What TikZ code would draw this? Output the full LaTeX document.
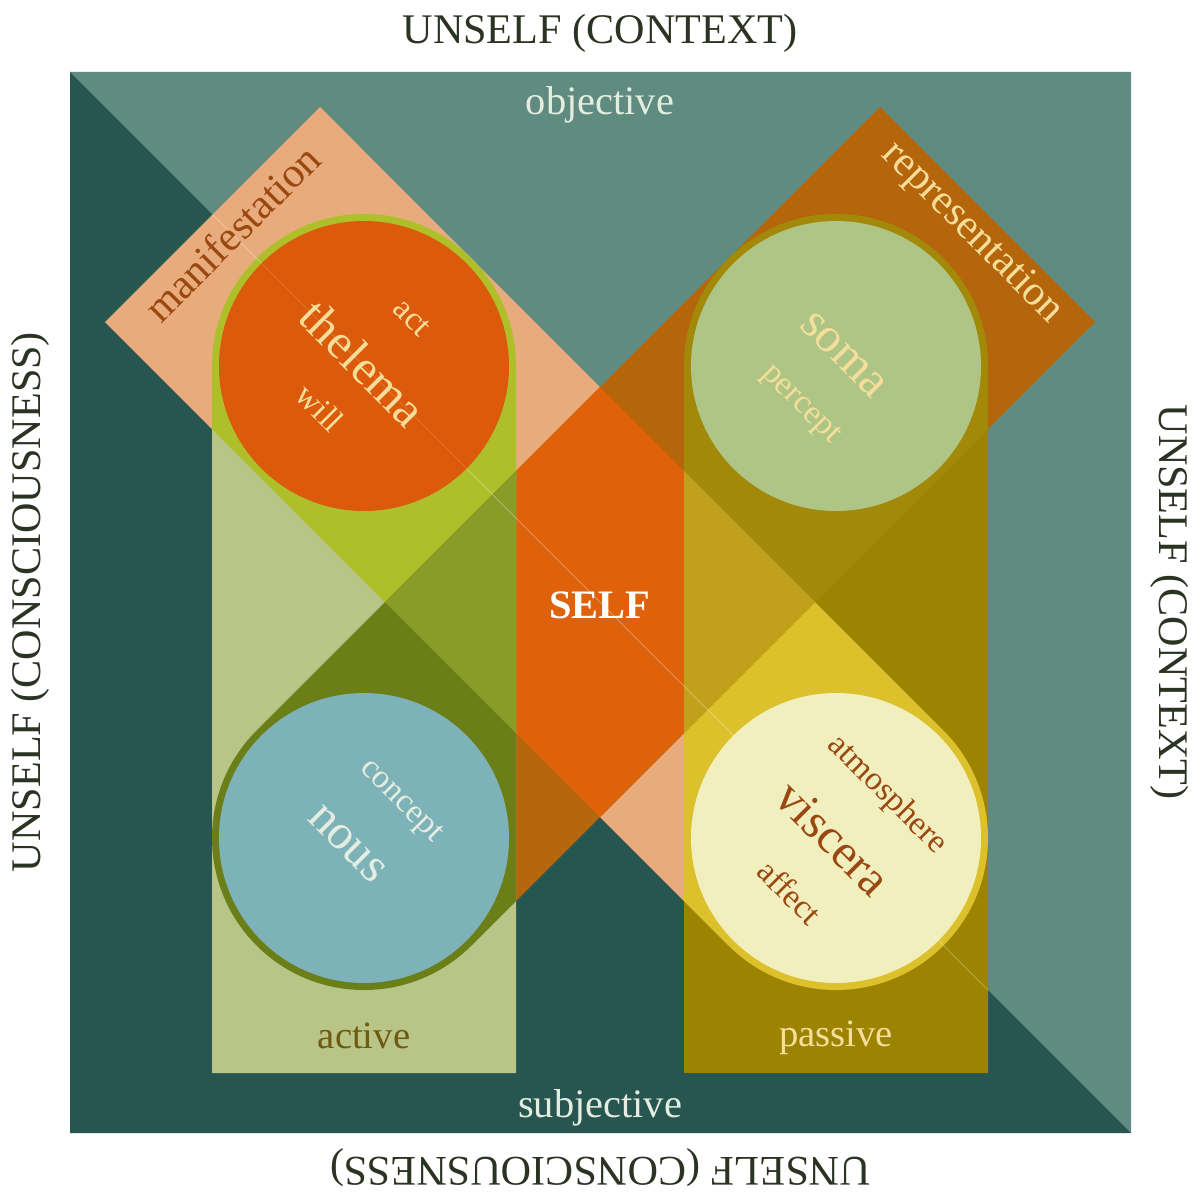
\documentclass[tikz,border=0pt]{standalone}
\usepackage{fontspec}
\setmainfont{Liberation Serif}
\usepackage{tikz}

\definecolor{paper}{HTML}{FFFFFF}
\definecolor{tealL}{HTML}{5F8B80}
\definecolor{tealD}{HTML}{27554F}
\definecolor{salmon}{HTML}{E8AB7B}
\definecolor{rust}{HTML}{B5650B}
\definecolor{selfor}{HTML}{DF620A}
\definecolor{lstripc}{HTML}{B9C586}
\definecolor{lsal}{HTML}{AEBF2A}
\definecolor{lboth}{HTML}{8A9C28}
\definecolor{lrust}{HTML}{6C7E18}
\definecolor{rstripc}{HTML}{9C8402}
\definecolor{rsal}{HTML}{DCC02C}
\definecolor{rboth}{HTML}{C1A11B}
\definecolor{rrust}{HTML}{A3890A}
\definecolor{thelc}{HTML}{DB5A0B}
\definecolor{somac}{HTML}{AEC585}
\definecolor{nousc}{HTML}{7DB2B8}
\definecolor{viscc}{HTML}{F2EFBF}
\definecolor{cream}{HTML}{F5DE9A}
\definecolor{brownt}{HTML}{9A4710}
\definecolor{activet}{HTML}{6E5A12}
\definecolor{palet}{HTML}{E4EDE0}
\definecolor{inkt}{HTML}{2B3322}

\tikzset{
    fsz/.style={font=\fontsize{#1}{#1}\selectfont},
    axis/.style={fsz=24,text=inkt,inner sep=0pt},
    pole/.style={fsz=23,text=palet,inner sep=0pt,anchor=base},
    striplbl/.style={fsz=22,inner sep=0pt,anchor=base},
    bandlbl/.style={fsz=24,inner sep=0pt},
    word/.style={fsz=28,rotate=-45,inner sep=0pt},
    subword/.style={fsz=19,rotate=-45,inner sep=0pt},
    selflbl/.style={font=\fontsize{23}{23}\selectfont\bfseries,text=white,inner sep=0pt,anchor=base},
    seam/.style={draw=white,draw opacity=0.3,line width=0.6pt}
}

% band and strip outlines, in pixel units
\def\mband{(320,107) -- (105,322) -- (728.5,945.5) arc[start angle=135,end angle=-45,radius=152] -- cycle}
\def\rband{(880,107) -- (1095,322) -- (471.5,945.5) arc[start angle=45,end angle=225,radius=152] -- cycle}
\def\lstrip{(212,1073) -- (212,366) arc[start angle=180,end angle=360,radius=152] -- (516,1073) -- cycle}
\def\rstrip{(684,1073) -- (684,366) arc[start angle=180,end angle=360,radius=152] -- (988,1073) -- cycle}

\begin{document}
\begin{tikzpicture}[x=0.02cm,y=-0.02cm]
    \useasboundingbox (0,0) rectangle (1200,1203);
    \fill[paper] (0,0) rectangle (1200,1203);

    % the square, split on its diagonal
    \fill[tealL] (70,72) -- (1131,72) -- (1131,1133) -- cycle;
    \fill[tealD] (70,72) -- (70,1133) -- (1131,1133) -- cycle;

    % manifestation and representation bands
    \fill[salmon] \mband;
    \fill[rust] \rband;
    \begin{scope}
        \clip \mband;
        \fill[selfor] \rband;
    \end{scope}

    % active strip
    \fill[lstripc] \lstrip;
    \begin{scope}
        \clip \lstrip;
        \fill[lsal] \mband;
        \fill[lrust] \rband;
        \clip \mband;
        \fill[lboth] \rband;
    \end{scope}

    % passive strip
    \fill[rstripc] \rstrip;
    \begin{scope}
        \clip \rstrip;
        \fill[rsal] \mband;
        \fill[rrust] \rband;
        \clip \mband;
        \fill[rboth] \rband;
    \end{scope}

    \draw[seam] (212.5,214.5) -- (988,990);

    % the four circles
    \fill[thelc] (364,366) circle[radius=145];
    \fill[somac] (836,366) circle[radius=145];
    \fill[nousc] (364,838) circle[radius=145];
    \fill[viscc] (836,838) circle[radius=145];
    \draw[seam,draw opacity=0.15] (364,366) ++(-102.5,-102.5) -- ++(205,205);
    \draw[seam,draw opacity=0.2] (836,838) ++(-102.5,-102.5) -- ++(205,205);

    % outer labels
    \node[axis] (ctxtop) at (600,33) {UNSELF (CONTEXT)};
    \node[axis,rotate=90] (conleft) at (30,602) {UNSELF (CONSCIOUSNESS)};
    \node[axis,rotate=-90] (ctxright) at (1170,602) {UNSELF (CONTEXT)};
    \node[axis,rotate=180] (conbottom) at (600,1168) {UNSELF (CONSCIOUSNESS)};

    \node[pole] (objective) at (600,114) {objective};
    \node[pole] (subjective) at (600,1117) {subjective};
    \node[striplbl,text=activet] (active) at (364,1048) {active};
    \node[striplbl,text=cream] (passive) at (836,1046) {passive};
    \node[selflbl] (self) at (600,618) {SELF};

    \node[bandlbl,rotate=45,text=brownt] (manif) at (232,233) {manifestation};
    \node[bandlbl,rotate=-45,text=cream] (repres) at (972,233) {representation};

    % circle words
    \node[word,text=cream] (thelema) at (363,363) {thelema};
    \node[subword,text=cream] (act) at (412,318) {act};
    \node[subword,text=cream] (will) at (320,408) {will};
    \node[word,text=cream] (soma) at (843,355) {soma};
    \node[subword,text=cream] (percept) at (800,405) {percept};
    \node[word,text=palet] (nous) at (347,844) {nous};
    \node[subword,text=palet] (concept) at (400,802) {concept};
    \node[word,text=brownt] (viscera) at (833,838) {viscera};
    \node[subword,text=brownt] (atmos) at (887,795) {atmosphere};
    \node[subword,text=brownt] (affect) at (790,892) {affect};
\end{tikzpicture}
\end{document}
